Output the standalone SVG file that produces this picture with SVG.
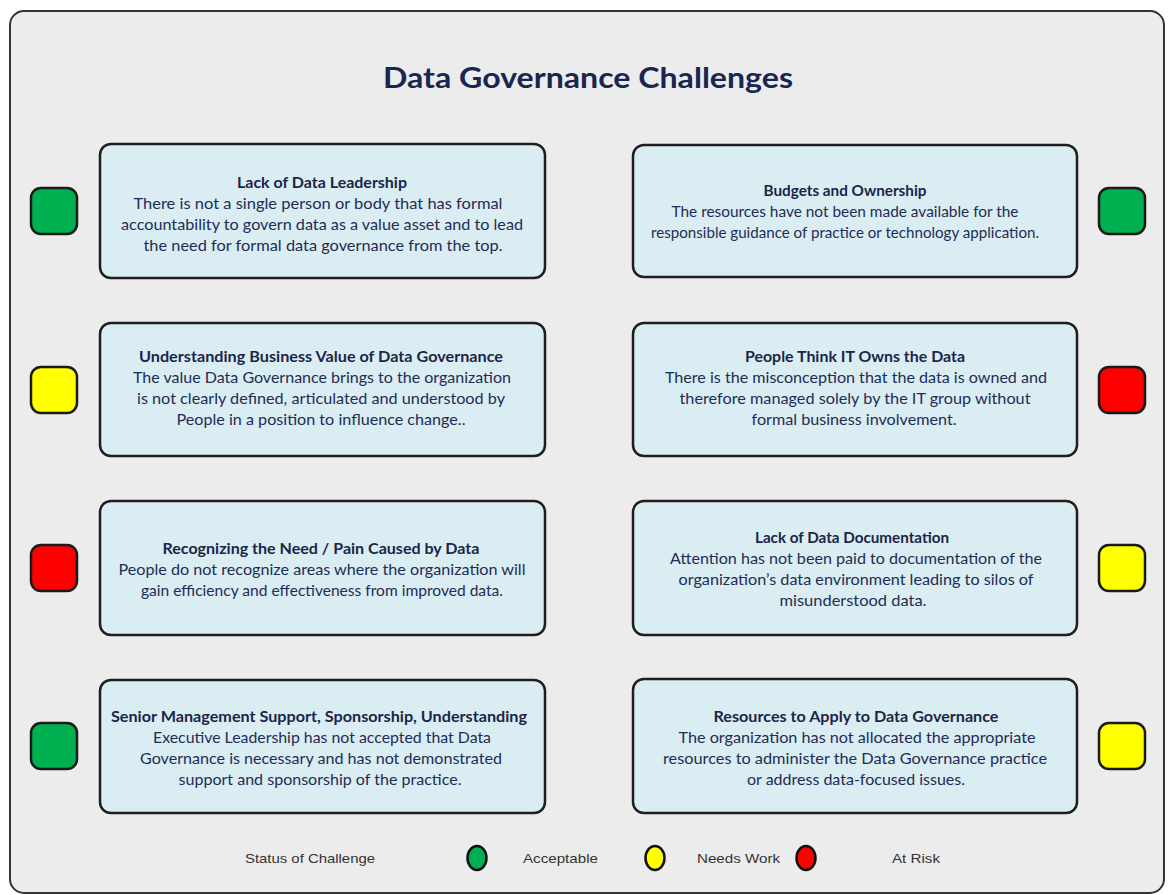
<svg xmlns="http://www.w3.org/2000/svg" width="1168" height="895" viewBox="0 0 1168 895">
<style>
.bg{fill:#ececec;stroke:#333;stroke-width:2}
.box{fill:#daedf3;stroke:#1e1e1e;stroke-width:2.5}
.ind{stroke:#1a1a1a;stroke-width:2.5}
.g{fill:#00b050}.y{fill:#ffff00}.r{fill:#ff0000}
.t{font-family:Lato,"Liberation Sans",sans-serif;font-size:15px;fill:#1f2c55;text-anchor:middle}
.h{font-weight:bold;fill:#1a2548}
.title{font-family:Lato,"Liberation Sans",sans-serif;font-size:28px;font-weight:bold;fill:#1a2550;text-anchor:middle}
.lg{font-family:"Liberation Sans",Arial,sans-serif;font-size:13px;fill:#333}
.lc{stroke:#111;stroke-width:2.5}
</style>
<rect x="0" y="0" width="1168" height="895" fill="#ffffff"/>
<rect class="bg" x="10" y="11" width="1154" height="882" rx="14"/>
<text class="title" x="588" y="88" textLength="410" lengthAdjust="spacingAndGlyphs">Data Governance Challenges</text>

<g id="n1">
<rect class="ind g" x="31" y="188" width="46" height="46" rx="10"/>
<rect class="box" x="100" y="144" width="445" height="134" rx="11"/>
<text class="t h" x="322" y="188" textLength="170" lengthAdjust="spacingAndGlyphs">Lack of Data Leadership</text>
<text class="t" x="318" y="209" textLength="369" lengthAdjust="spacingAndGlyphs">There is not a single person or body that has formal</text>
<text class="t" x="322" y="230" textLength="402" lengthAdjust="spacingAndGlyphs">accountability to govern data as a value asset and to lead</text>
<text class="t" x="323" y="251" textLength="359" lengthAdjust="spacingAndGlyphs">the need for formal data governance from the top.</text>
</g>

<g id="n2">
<rect class="ind g" x="1099" y="188" width="46" height="46" rx="10"/>
<rect class="box" x="633" y="145" width="444" height="132" rx="11"/>
<text class="t h" x="845" y="196" textLength="163" lengthAdjust="spacingAndGlyphs">Budgets and Ownership</text>
<text class="t" x="845" y="217" textLength="347" lengthAdjust="spacingAndGlyphs">The resources have not been made available for the</text>
<text class="t" x="845" y="238" textLength="388" lengthAdjust="spacingAndGlyphs">responsible guidance of practice or technology application.</text>
</g>

<g id="n3">
<rect class="ind y" x="31" y="367" width="46" height="46" rx="10"/>
<rect class="box" x="100" y="323" width="445" height="133" rx="11"/>
<text class="t h" x="321" y="362" textLength="364" lengthAdjust="spacingAndGlyphs">Understanding Business Value of Data Governance</text>
<text class="t" x="322" y="383" textLength="378" lengthAdjust="spacingAndGlyphs">The value Data Governance brings to the organization</text>
<text class="t" x="321" y="404" textLength="368" lengthAdjust="spacingAndGlyphs">is not clearly defined, articulated and understood by</text>
<text class="t" x="321" y="425" textLength="289" lengthAdjust="spacingAndGlyphs">People in a position to influence change..</text>
</g>

<g id="n4">
<rect class="ind r" x="1099" y="367" width="46" height="46" rx="10"/>
<rect class="box" x="633" y="323" width="444" height="133" rx="11"/>
<text class="t h" x="855" y="362" textLength="220" lengthAdjust="spacingAndGlyphs">People Think IT Owns the Data</text>
<text class="t" x="856" y="383" textLength="382" lengthAdjust="spacingAndGlyphs">There is the misconception that the data is owned and</text>
<text class="t" x="855" y="404" textLength="351" lengthAdjust="spacingAndGlyphs">therefore managed solely by the IT group without</text>
<text class="t" x="854" y="425" textLength="205" lengthAdjust="spacingAndGlyphs">formal business involvement.</text>
</g>

<g id="n5">
<rect class="ind r" x="31" y="545" width="46" height="46" rx="10"/>
<rect class="box" x="100" y="501" width="445" height="134" rx="11"/>
<text class="t h" x="321" y="554" textLength="317" lengthAdjust="spacingAndGlyphs">Recognizing the Need / Pain Caused by Data</text>
<text class="t" x="322" y="575" textLength="407" lengthAdjust="spacingAndGlyphs">People do not recognize areas where the organization will</text>
<text class="t" x="322" y="596" textLength="362" lengthAdjust="spacingAndGlyphs">gain efficiency and effectiveness from improved data.</text>
</g>

<g id="n6">
<rect class="ind y" x="1099" y="545" width="46" height="46" rx="10"/>
<rect class="box" x="633" y="501" width="444" height="134" rx="11"/>
<text class="t h" x="852" y="543" textLength="194" lengthAdjust="spacingAndGlyphs">Lack of Data Documentation</text>
<text class="t" x="856" y="564" textLength="372" lengthAdjust="spacingAndGlyphs">Attention has not been paid to documentation of the</text>
<text class="t" x="856" y="585" textLength="355" lengthAdjust="spacingAndGlyphs">organization’s data environment leading to silos of</text>
<text class="t" x="853" y="606" textLength="147" lengthAdjust="spacingAndGlyphs">misunderstood data.</text>
</g>

<g id="n7">
<rect class="ind g" x="31" y="723" width="46" height="46" rx="10"/>
<rect class="box" x="100" y="680" width="445" height="133" rx="11"/>
<text class="t h" x="319" y="722" textLength="416" lengthAdjust="spacingAndGlyphs">Senior Management Support, Sponsorship, Understanding</text>
<text class="t" x="322" y="743" textLength="338" lengthAdjust="spacingAndGlyphs">Executive Leadership has not accepted that Data</text>
<text class="t" x="321" y="764" textLength="362" lengthAdjust="spacingAndGlyphs">Governance is necessary and has not demonstrated</text>
<text class="t" x="320" y="785" textLength="283" lengthAdjust="spacingAndGlyphs">support and sponsorship of the practice.</text>
</g>

<g id="n8">
<rect class="ind y" x="1099" y="723" width="46" height="46" rx="10"/>
<rect class="box" x="633" y="679" width="444" height="134" rx="11"/>
<text class="t h" x="856" y="722" textLength="285" lengthAdjust="spacingAndGlyphs">Resources to Apply to Data Governance</text>
<text class="t" x="857" y="743" textLength="357" lengthAdjust="spacingAndGlyphs">The organization has not allocated the appropriate</text>
<text class="t" x="855" y="764" textLength="384" lengthAdjust="spacingAndGlyphs">resources to administer the Data Governance  practice</text>
<text class="t" x="856" y="785" textLength="218" lengthAdjust="spacingAndGlyphs">or address data-focused issues.</text>
</g>

<g id="legend">
<text class="lg" x="245" y="863" textLength="130" lengthAdjust="spacingAndGlyphs">Status of Challenge</text>
<ellipse class="lc g" cx="477" cy="858" rx="9.5" ry="12"/>
<text class="lg" x="523" y="863" textLength="75" lengthAdjust="spacingAndGlyphs">Acceptable</text>
<ellipse class="lc y" cx="655" cy="858" rx="9.5" ry="12"/>
<text class="lg" x="697" y="863" textLength="83" lengthAdjust="spacingAndGlyphs">Needs Work</text>
<ellipse class="lc r" cx="806" cy="858" rx="9.5" ry="12"/>
<text class="lg" x="892" y="863" textLength="48" lengthAdjust="spacingAndGlyphs">At Risk</text>
</g>
<g id="connectors"/>
</svg>
